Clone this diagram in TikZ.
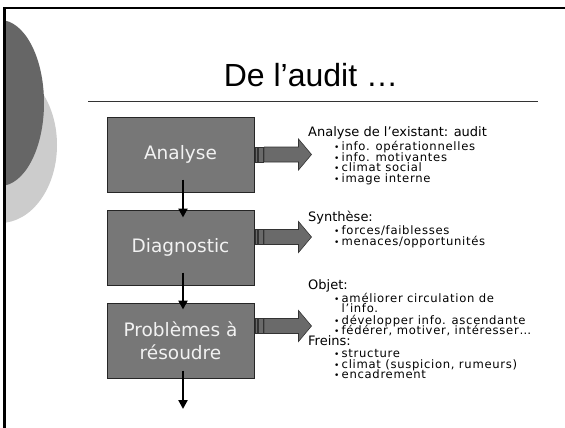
\documentclass[tikz,border=0pt]{standalone}
\usepackage{fontspec}
\setmainfont{DejaVu Sans}
\newfontfamily\titlefont{Liberation Sans}
\newfontfamily\bodyfont[LetterSpace=6]{DejaVu Sans}
\usetikzlibrary{arrows.meta}
\definecolor{boxgray}{HTML}{777777}
\definecolor{arrgray}{HTML}{6A6A6A}
\definecolor{darkcirc}{HTML}{666666}
\definecolor{lightcirc}{HTML}{CCCCCC}
\definecolor{boxtext}{HTML}{F2F2F2}
\newcommand\mybul{\makebox[7.5pt][l]{\fontsize{9}{9}\selectfont •}}
\begin{document}
\begin{tikzpicture}[x=1pt,y=-1pt,
  stagebox/.style={draw=black!85, line width=1pt, fill=boxgray, minimum width=147pt,
    minimum height=75pt, inner sep=0pt, text=boxtext,
    font=\fontsize{18.5}{23}\selectfont, align=center},
  flow/.style={line width=2.3pt, -{Triangle[width=9pt,length=9pt]}},
  headtxt/.style={anchor=base west, inner sep=0pt, font=\fontsize{13}{13}\selectfont},
  subtxt/.style={anchor=base west, inner sep=0pt, font=\bodyfont\fontsize{11.6}{12}\selectfont},
  barrow/.style={fill=arrgray, draw=black!80, line width=0.6pt},
  stripearrow/.pic={
    \filldraw[barrow] (0.8,-7.5) rectangle (2.6,7.5);
    \filldraw[barrow] (3.8,-7.5) rectangle (8.8,7.5);
    \filldraw[barrow] (9.8,-7.5) -- (44,-7.5) -- (44,-15.5) -- (57,0) -- (44,15.5)
      -- (44,7.5) -- (9.8,7.5) -- cycle;
  }]
\useasboundingbox (0,0) rectangle (565,428);
\fill[white] (0,0) rectangle (565,428);
\begin{scope}
  \clip (4.5,0) rectangle (565,428);
  \fill[lightcirc] (0,145) ellipse [x radius=57, y radius=78];
  \fill[darkcirc] (0,103) ellipse [x radius=44, y radius=83];
\end{scope}
\draw[line width=2.4pt] (4.5,428) -- (4.5,8) -- (565,8);

\node[font=\titlefont\fontsize{32}{32}\selectfont, anchor=base] (title) at (311,87) {De l’audit …};
\draw[line width=1pt, black!80] (88,101) -- (538,101);

\node[stagebox] (b1) at (180.5,154.5) {Analyse};
\node[stagebox] (b2) at (180.5,247.5) {Diagnostic};
\node[stagebox] (b3) at (180.5,340.5) {Problèmes à\\résoudre};

\draw[flow] ([xshift=2.5pt,yshift=13pt]b1.south) -- ([xshift=2.5pt,yshift=-8pt]b2.north);
\draw[flow] ([xshift=2.5pt,yshift=13pt]b2.south) -- ([xshift=2.5pt,yshift=-7pt]b3.north);
\coordinate (end) at (183,409);
\draw[flow] ([xshift=2.5pt,yshift=8pt]b3.south) -- (end);

\pic at (b1.east) {stripearrow};
\pic at ([yshift=10.5pt]b2.east) {stripearrow};
\pic at ([yshift=14.5pt]b3.east) {stripearrow};

\node[headtxt] (h1) at (308,136) {Analyse de l’existant: audit};
\node[subtxt] (a1) at (334,150.5) {\mybul info. opérationnelles};
\node[subtxt] (a2) at (334,161) {\mybul info. motivantes};
\node[subtxt] (a3) at (334,171.5) {\mybul climat social};
\node[subtxt] (a4) at (334,182) {\mybul image interne};

\node[headtxt] (h2) at (308,221) {Synthèse:};
\node[subtxt] (s1) at (334,234) {\mybul forces/faiblesses};
\node[subtxt] (s2) at (334,245) {\mybul menaces/opportunités};

\node[headtxt] (h3) at (308,289) {Objet:};
\node[subtxt] (o1) at (334,302) {\mybul améliorer circulation de};
\node[subtxt] (o1b) at (341.5,312.5) {l’info.};
\node[subtxt] (o2) at (334,324) {\mybul développer info. ascendante};
\node[subtxt] (o3) at (334,334.5) {\mybul fédérer, motiver, intéresser…};
\node[headtxt] (h4) at (308,345.5) {Freins:};
\node[subtxt] (f1) at (334,357) {\mybul structure};
\node[subtxt] (f2) at (334,368) {\mybul climat (suspicion, rumeurs)};
\node[subtxt] (f3) at (334,378.5) {\mybul encadrement};
\end{tikzpicture}
\end{document}
